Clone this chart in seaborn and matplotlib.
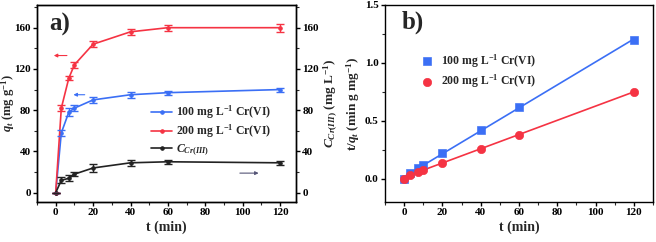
import numpy as np
import pandas as pd
import seaborn as sns
import matplotlib.pyplot as plt

# temps de contact (min)
t = [0, 3, 7, 10, 20, 40, 60, 120]
q_100 = [0, 58, 78, 82, 90, 95, 97, 100]
q_200 = [0, 82, 111, 124, 144, 156, 160, 160]
c_cr3 = [0, 12, 14, 18, 24, 29, 30, 29]
err_100 = [0, 3, 4, 3, 3, 3, 2, 2]
err_200 = [0, 3, 2, 3, 3, 3, 3, 4]
err_cr3 = [0, 3, 3, 2, 4, 3, 2, 2]

# t/qt pour le modele de pseudo-second ordre
tq_100 = [0, 0.05, 0.09, 0.12, 0.22, 0.42, 0.62, 1.20]
tq_200 = [0, 0.035, 0.063, 0.08, 0.14, 0.26, 0.38, 0.75]

blue = '#3b6ff5'
red = '#f53343'

sns.set_style("ticks")
plt.rcParams['font.family'] = ['Liberation Serif', 'DejaVu Serif']
plt.rcParams['font.weight'] = 'bold'
plt.rcParams['axes.labelweight'] = 'bold'
plt.rcParams['mathtext.fontset'] = 'custom'
plt.rcParams['mathtext.rm'] = 'Liberation Serif:bold'
plt.rcParams['mathtext.it'] = 'Liberation Serif:italic:bold'
plt.rcParams['mathtext.bf'] = 'Liberation Serif:bold'
plt.rcParams['xtick.direction'] = 'out'
plt.rcParams['ytick.direction'] = 'out'

df = pd.DataFrame({'t': t, 'q100': q_100, 'q200': q_200, 'c': c_cr3,
                   'tq100': tq_100, 'tq200': tq_200})

fig = plt.figure(figsize=(6.56, 2.42), dpi=100)
ax1 = fig.add_axes([37/656, 40/242, 259/656, 197/242])
ax2 = fig.add_axes([385/656, 40/242, 268/656, 197/242])

# --- a) ---
lw = 1.2
sns.lineplot(data=df, x='t', y='q100', ax=ax1, color=blue, lw=lw, marker='o', ms=2.5,
             mec=blue, label='100 mg L$^{-1}$ Cr(VI)')
sns.lineplot(data=df, x='t', y='q200', ax=ax1, color=red, lw=lw, marker='o', ms=2.5,
             mec=red, label='200 mg L$^{-1}$ Cr(VI)')
sns.lineplot(data=df, x='t', y='c', ax=ax1, color='#222222', lw=lw, marker='o', ms=2.5,
             mec='#222222', label='$C_{Cr(III)}$')
ax1.errorbar(t, q_100, yerr=err_100, fmt='none', ecolor=blue, elinewidth=1, capsize=3)
ax1.errorbar(t, q_200, yerr=err_200, fmt='none', ecolor=red, elinewidth=1, capsize=3)
ax1.errorbar(t, c_cr3, yerr=err_cr3, fmt='none', ecolor='#222222', elinewidth=1, capsize=3)

ax1.set_xlim(-10, 128.5)
ax1.set_ylim(-9, 182)
ax1.set_xticks(range(0, 121, 20))
ax1.set_xticks(range(-10, 121, 10), minor=True)
ax1.set_yticks(range(0, 161, 40))
ax1.set_yticks(range(0, 181, 20), minor=True)
ax1.set_xlabel('t (min)', fontsize=10, labelpad=2)
ax1.set_ylabel('$q_t$ (mg g$^{-1}$)', fontsize=9)
ax1.yaxis.set_label_coords(-0.078, 0.5)

ax1r = ax1.twinx()
ax1r.set_ylim(-9, 182)
ax1r.set_yticks(range(0, 161, 40))
ax1r.set_yticks(range(0, 181, 20), minor=True)
ax1r.set_ylabel('$C_{Cr(III)}$ (mg L$^{-1}$)', fontsize=9.5)
ax1r.yaxis.set_label_coords(1.098, 0.5)

# fleches
ax1.annotate('', xy=(-2.5, 133), xytext=(7.5, 133),
             arrowprops=dict(arrowstyle='-|>', color=red, lw=0.8, mutation_scale=5))
ax1.annotate('', xy=(8, 95), xytext=(17, 95),
             arrowprops=dict(arrowstyle='-|>', color=blue, lw=0.8, mutation_scale=5))
ax1.annotate('', xy=(110, 19), xytext=(97, 19),
             arrowprops=dict(arrowstyle='-|>', color='#555577', lw=0.8, mutation_scale=5))

ax1.text(-3.5, 163, 'a)', fontsize=18, fontweight='bold', va='center')
ax1.legend(loc='upper left', bbox_to_anchor=(0.44, 0.50), frameon=False, fontsize=8.5,
           handlelength=1.8, handletextpad=0.3, labelspacing=0.15,
           borderaxespad=0, borderpad=0)

# --- b) ---
sns.regplot(data=df, x='t', y='tq100', ax=ax2, scatter=False, ci=None,
            line_kws=dict(color=blue, lw=lw))
sns.regplot(data=df, x='t', y='tq200', ax=ax2, scatter=False, ci=None,
            line_kws=dict(color=red, lw=lw))
sns.scatterplot(data=df, x='t', y='tq100', ax=ax2, color=blue, marker='s', s=30,
                edgecolor=blue, label='100 mg L$^{-1}$ Cr(VI)', zorder=3)
sns.scatterplot(data=df, x='t', y='tq200', ax=ax2, color=red, marker='o', s=36,
                edgecolor=red, label='200 mg L$^{-1}$ Cr(VI)', zorder=3)

ax2.set_xlim(-10, 130)
ax2.set_ylim(-0.2, 1.5)
ax2.set_xticks(range(0, 121, 20))
ax2.set_xticks(range(-10, 131, 10), minor=True)
ax2.set_yticks([0.0, 0.5, 1.0, 1.5])
ax2.set_yticks(np.arange(0, 1.51, 0.25), minor=True)
ax2.set_xlabel('t (min)', fontsize=10, labelpad=2)
ax2.set_ylabel('t/$q_t$ (min g mg$^{-1}$)', fontsize=9.5)
ax2.yaxis.set_label_coords(-0.085, 0.5)
ax2.text(-1.5, 1.35, 'b)', fontsize=18, fontweight='bold', va='center')
ax2.legend(loc='upper left', bbox_to_anchor=(0.113, 0.76), frameon=False, fontsize=8.5,
           handletextpad=0.2, labelspacing=0.25, borderaxespad=0, borderpad=0)

for ax in (ax1, ax1r, ax2):
    for s in ax.spines.values():
        s.set_visible(True)
        s.set_linewidth(1.0)
        s.set_color('black')
    ax.tick_params(labelsize=8, width=1, length=3, colors='black', pad=1.5)
    ax.tick_params(which='minor', width=0.8, length=2)
ax1.tick_params(top=False, right=False)
ax2.tick_params(top=False, right=False)

fig.savefig('out.png', dpi=100)
